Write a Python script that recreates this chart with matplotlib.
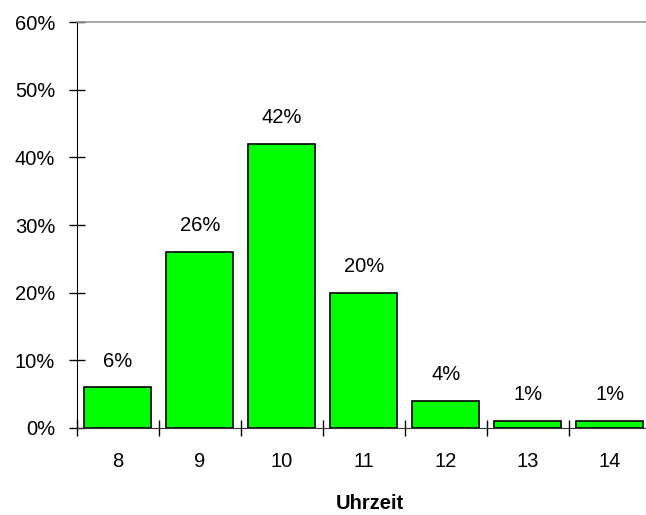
import matplotlib
matplotlib.use("Agg")
import matplotlib.pyplot as plt

hours = ["8", "9", "10", "11", "12", "13", "14"]
shares = [6, 26, 42, 20, 4, 1, 1]

plt.rcParams['font.family'] = ['Liberation Sans', 'DejaVu Sans']

fig = plt.figure(figsize=(6.46, 5.15), dpi=100)
ax = fig.add_axes([0.1187, 0.169, 0.8886, 0.788])

x = range(len(hours))
ax.bar(x, shares, width=0.82, color='#00ff00', edgecolor='black', linewidth=1.2, zorder=3)
for i, v in enumerate(shares):
    ax.annotate(f"{v}%", (i, v), xytext=(0, 15), textcoords='offset points',
                ha='center', va='baseline', fontsize=14.5)

ax.set_xlim(-0.5, len(hours) - 0.5)
ax.set_ylim(0, 60)
ax.set_yticks(range(0, 61, 10))
ax.set_yticklabels([f"{t}%" for t in range(0, 61, 10)], fontsize=14.5)
# Striche zwischen den Kategorien, Beschriftung in der Mitte
ax.set_xticks([i - 0.5 for i in range(len(hours) + 1)])
ax.set_xticklabels([])
ax.set_xticks(list(x), minor=True)
ax.set_xticklabels(hours, minor=True, fontsize=14.5)
ax.tick_params(axis='x', which='major', direction='inout', length=11, width=1)
ax.tick_params(axis='x', which='minor', length=0, pad=17)
ax.tick_params(axis='y', direction='inout', length=11, width=1, pad=10)

ax.spines['right'].set_visible(False)
ax.spines['top'].set_color('#999999')
ax.spines['top'].set_linewidth(1.2)
ax.spines['left'].set_color('black')
ax.spines['bottom'].set_color('#333333')

ax.set_xlabel("Uhrzeit", fontsize=14.5, fontweight='bold', va='center')
ax.xaxis.set_label_coords(0.51, -0.185)

fig.savefig("out.png", dpi=100)
